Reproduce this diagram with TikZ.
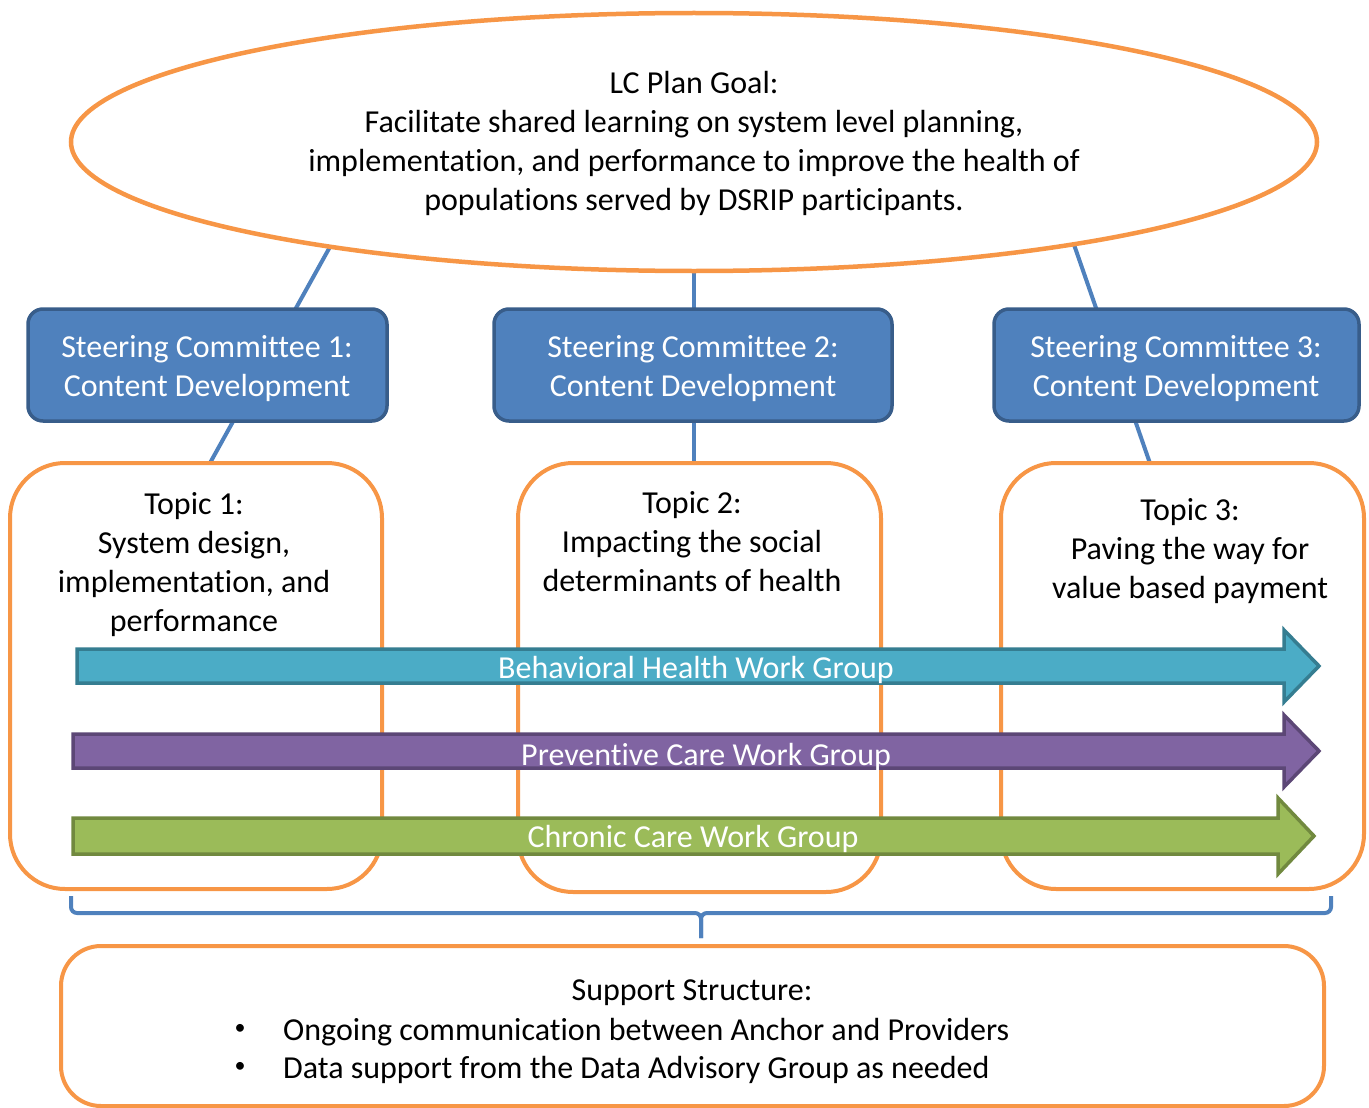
\documentclass[tikz,border=0pt]{standalone}
\usepackage{fontspec}
\setmainfont[Ligatures=NoCommon]{Carlito}
\usetikzlibrary{calc,shapes.geometric}
\definecolor{org}{HTML}{F79646}
\definecolor{blu}{HTML}{4F81BD}
\definecolor{bluD}{HTML}{385D8A}
\definecolor{teal}{HTML}{4BACC6}
\definecolor{tealD}{HTML}{357D91}
\definecolor{purp}{HTML}{8064A2}
\definecolor{purpD}{HTML}{5C4776}
\definecolor{grn}{HTML}{9BBB59}
\definecolor{grnD}{HTML}{71893F}
\begin{document}
\begin{tikzpicture}[x=1pt,y=-1pt,
  txt/.style={font=\fontsize{32}{39}\selectfont, align=center, inner sep=0pt},
  scbox/.style={draw=bluD, line width=3.5pt, fill=blu, rounded corners=15pt},
  topicbox/.style={draw=org, line width=4pt, fill=white, rounded corners=55pt},
  link/.style={draw=blu, line width=4pt},
  arr/.style={line width=3.5pt, line join=miter},
]
\useasboundingbox (0,0) rectangle (1369,1108);
% connectors (behind)
\coordinate (l1a) at (336,236); \coordinate (l1b) at (205,472);
\coordinate (l2a) at (694,260); \coordinate (l2b) at (694,472);
\coordinate (l3a) at (1071,236); \coordinate (l3b) at (1153,472);
\draw[link] (l1a) -- (l1b);
\draw[link] (l2a) -- (l2b);
\draw[link] (l3a) -- (l3b);
% ellipse
\node[draw=org, line width=4.5pt, fill=white, ellipse, minimum width=1246pt, minimum height=258pt, inner sep=0pt] (goal) at (694,142) {};
\node[txt] (goaltxt) at (694,143) {LC Plan Goal:\\Facilitate shared learning on system level planning,\\implementation, and performance to improve the health of\\populations served by DSRIP participants.};
% steering committees
\draw[scbox] (28,309) rectangle (387,421); \coordinate (sc1) at (207,369);
\draw[scbox] (494,309) rectangle (892,421); \coordinate (sc2) at (693,369);
\draw[scbox] (994,309) rectangle (1359,421); \coordinate (sc3) at (1176,369);
\node[txt, text=white] (sc1t) at (sc1) {Steering Committee 1:\\Content Development};
\node[txt, text=white] (sc2t) at (sc2) {Steering Committee 2:\\Content Development};
\node[txt, text=white] (sc3t) at (sc3) {Steering Committee 3:\\Content Development};
% topic boxes
\draw[topicbox] (10,463) rectangle (382,889);
\draw[topicbox] (518,463) rectangle (881,892);
\draw[topicbox] (1001,463) rectangle (1364,889);
\node[txt] (t1) at (194,565) {Topic 1:\\System design,\\implementation, and\\performance};
\node[txt] (t2) at (692,542) {Topic 2:\\Impacting the social\\determinants of health};
\node[txt] (t3) at (1190,551.5) {Topic 3:\\Paving the way for\\value based payment};
% arrows
\draw[arr, draw=tealD, fill=teal] (77,649) -- (1284,649) -- (1284,630) -- (1319,666) -- (1284,702) -- (1284,683) -- (77,683) -- cycle;
\draw[arr, draw=purpD, fill=purp] (73,734) -- (1284,734) -- (1284,715) -- (1319,751) -- (1284,787) -- (1284,768) -- (73,768) -- cycle;
\draw[arr, draw=grnD, fill=grn] (73,818) -- (1278,818) -- (1278,798) -- (1314,836) -- (1278,874) -- (1278,854) -- (73,854) -- cycle;
\node[txt, text=white] (bh) at (696,670) {Behavioral Health Work Group};
\node[txt, text=white] (pc) at (706,757) {Preventive Care Work Group};
\node[txt, text=white] (cc) at (693,838.5) {Chronic Care Work Group};
% brace
\coordinate (bl) at (71,896); \coordinate (br) at (1331,896); \coordinate (bm) at (701,938);
\draw[blu, line width=4pt, rounded corners=6pt] (bl) -- (71,913) -- (701,913) -- (bm);
\draw[blu, line width=4pt, rounded corners=6pt] (br) -- (1331,913) -- (701,913) -- (bm);
% support
\draw[draw=org, line width=4pt, fill=white, rounded corners=40pt] (61,946) rectangle (1324,1106);
\node[txt] (sup) at (692,993) {Support Structure:};
\node[txt, anchor=west] (b1) at (283,1032) {Ongoing communication between Anchor and Providers};
\node[txt, anchor=west] (b2) at (283,1070) {Data support from the Data Advisory Group as needed};
\node[inner sep=0pt, font=\fontsize{22}{22}\selectfont] (d1) at (240,1029) {•};
\node[inner sep=0pt, font=\fontsize{22}{22}\selectfont] (d2) at (240,1067) {•};
\end{tikzpicture}
\end{document}
